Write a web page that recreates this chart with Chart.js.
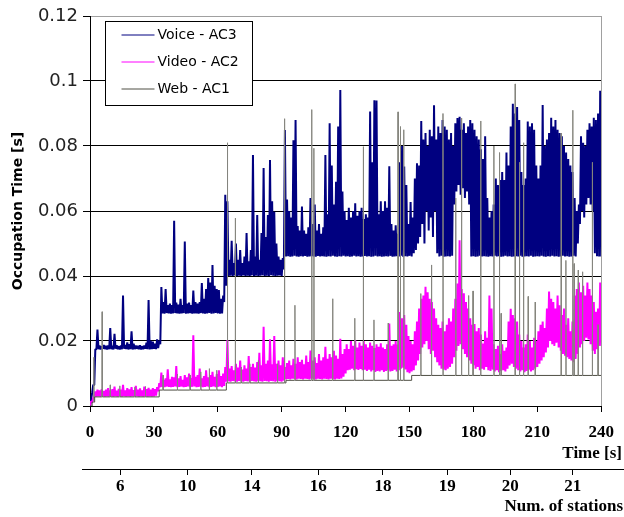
<!DOCTYPE html>
<html><head><meta charset="utf-8">
<script src="https://cdn.jsdelivr.net/npm/chart.js@4.4.1/dist/chart.umd.min.js"></script>
<style>html,body{margin:0;padding:0;background:#fff;}#wrap{width:624px;height:517px;}</style>
</head><body><div id="wrap"><canvas id="c" width="624" height="517"></canvas></div>
<script>
const seriesNames = ['Voice - AC3', 'Video - AC2', 'Web - AC1'];
const seriesColors = ['#000080', '#ff00ff', '#4f4f44'];
const spikeColor = '#85857e';
const yTitle = 'Occupation Time [s]';
const xTitle = 'Time [s]';
const x2Title = 'Num. of stations';
const yTickLabels = ['0', '0.02', '0.04', '0.06', '0.08', '0.1', '0.12'];
const stationTimes = [14.2, 45.9, 76, 107.1, 137.5, 167.7, 197.3, 226.6];
const stationLabels = ['6', '10', '14', '16', '18', '19', '20', '21'];

// Voice (AC3): per-second lower and upper values, t = 0..239
const voiceLo = [
0.000,0.004,0.0065,0.0174,0.0175,0.0174,0.0176,0.0175,0.0174,0.0175,
0.0175,0.0174,0.0176,0.0175,0.0174,0.0175,0.0176,0.0175,0.0174,0.0175,
0.0174,0.0175,0.0176,0.0175,0.0174,0.0175,0.0176,0.0175,0.0174,0.0175,
0.0176,0.0175,0.0178,0.0190,0.0285,0.0284,0.0286,0.0285,0.0284,0.0285,
0.0286,0.0285,0.0284,0.0285,0.0286,0.0284,0.0285,0.0286,0.0284,0.0285,
0.0285,0.0284,0.0286,0.0285,0.0284,0.0285,0.0286,0.0284,0.0285,0.0286,
0.0285,0.0284,0.0285,0.0320,0.0370,0.0400,0.0401,0.0400,0.0402,0.0400,
0.0401,0.0400,0.0402,0.0400,0.0401,0.0400,0.0402,0.0400,0.0401,0.0400,
0.0401,0.0402,0.0400,0.0401,0.0400,0.0402,0.0401,0.0400,0.0401,0.0402,
0.0400,0.0420,0.0460,0.0461,0.0459,0.0460,0.0462,0.0460,0.0459,0.0461,
0.0460,0.0462,0.0459,0.0460,0.0461,0.0460,0.0459,0.0462,0.0460,0.0461,
0.0460,0.0459,0.0461,0.0460,0.0462,0.0460,0.0459,0.0461,0.0460,0.0462,
0.0460,0.0461,0.0459,0.0460,0.0462,0.0460,0.0461,0.0459,0.0460,0.0462,
0.0460,0.0461,0.0459,0.0460,0.0462,0.0460,0.0461,0.0459,0.0460,0.0461,
0.0460,0.0462,0.0459,0.0460,0.0461,0.0460,0.0462,0.0459,0.0461,0.0460,
0.0462,0.0460,0.0470,0.0480,0.0500,0.0520,0.0560,0.0500,0.0600,0.0540,
0.0580,0.0520,0.0600,0.0470,0.0460,0.0462,0.0459,0.0460,0.0461,0.0460,
0.0462,0.0620,0.0660,0.0680,0.0650,0.0670,0.0640,0.0660,0.0620,0.0460,
0.0461,0.0459,0.0460,0.0462,0.0460,0.0461,0.0460,0.0459,0.0461,0.0460,
0.0462,0.0460,0.0461,0.0459,0.0460,0.0462,0.0460,0.0461,0.0459,0.0460,
0.0461,0.0460,0.0462,0.0459,0.0460,0.0461,0.0460,0.0462,0.0459,0.0460,
0.0461,0.0460,0.0462,0.0460,0.0459,0.0461,0.0460,0.0462,0.0460,0.0461,
0.0459,0.0460,0.0462,0.0460,0.0461,0.0459,0.0460,0.0462,0.0460,0.0500,
0.0560,0.0600,0.0580,0.0620,0.0640,0.0620,0.0600,0.0470,0.0461,0.0460
];
const voiceHi = [
0.0020,0.0065,0.0175,0.0235,0.0186,0.0184,0.0188,0.0185,0.0186,0.0240,
0.0185,0.0222,0.0187,0.0184,0.0186,0.0340,0.0188,0.0196,0.0190,0.0230,
0.0192,0.0186,0.0185,0.0187,0.0184,0.0186,0.0195,0.0326,0.0200,0.0198,
0.0192,0.0205,0.0200,0.0366,0.0320,0.0360,0.0310,0.0315,0.0310,0.0570,
0.0318,0.0312,0.0330,0.0310,0.0506,0.0315,0.0318,0.0310,0.0355,0.0320,
0.0315,0.0320,0.0378,0.0330,0.0360,0.0394,0.0380,0.0434,0.0370,0.0360,
0.0357,0.0330,0.0340,0.0650,0.0630,0.0450,0.0508,0.0440,0.0500,0.0450,
0.0480,0.0440,0.0460,0.0532,0.0445,0.0480,0.0772,0.0460,0.0588,0.0450,
0.0532,0.0732,0.0520,0.0588,0.0757,0.0630,0.0598,0.0500,0.0460,0.0450,
0.0455,0.0849,0.0635,0.0600,0.0580,0.0818,0.0880,0.0554,0.0540,0.0614,
0.0540,0.0530,0.0550,0.0640,0.0560,0.0620,0.0540,0.0560,0.0530,0.0550,
0.0772,0.0590,0.0870,0.0740,0.0620,0.0690,0.0860,0.0972,0.0660,0.0600,
0.0572,0.0610,0.0580,0.0600,0.0624,0.0585,0.0600,0.0610,0.0575,0.0590,
0.0580,0.0906,0.0750,0.0941,0.0940,0.0590,0.0630,0.0600,0.0630,0.0610,
0.0738,0.0560,0.0540,0.0556,0.0530,0.0750,0.0800,0.0737,0.0680,0.0560,
0.0628,0.0580,0.0700,0.0747,0.0740,0.0877,0.0820,0.0840,0.0800,0.0850,
0.0830,0.0925,0.0820,0.0860,0.0840,0.0880,0.0860,0.0850,0.0820,0.0840,
0.0800,0.0870,0.0886,0.0890,0.0850,0.0870,0.0840,0.0860,0.0880,0.0870,
0.0850,0.0830,0.0820,0.0790,0.0760,0.0830,0.0640,0.0580,0.0600,0.0620,
0.0700,0.0680,0.0695,0.0720,0.0695,0.0780,0.0740,0.0860,0.0930,0.0900,
0.0920,0.0880,0.0720,0.0680,0.0700,0.0875,0.0860,0.0870,0.0850,0.0740,
0.0700,0.0740,0.0926,0.0800,0.0820,0.0840,0.0887,0.0860,0.0880,0.0850,
0.0840,0.0830,0.0800,0.0780,0.0760,0.0740,0.0720,0.0640,0.0600,0.0620,
0.0830,0.0810,0.0800,0.0850,0.0870,0.0860,0.0887,0.0880,0.0900,0.0970
];

// Video (AC2): per-second lower and upper values, t = 0..239
const videoLo = [
0.0000,0.0010,0.0029,0.0029,0.0030,0.0029,0.0030,0.0029,0.0030,0.0029,
0.0030,0.0029,0.0030,0.0029,0.0030,0.0029,0.0030,0.0029,0.0030,0.0029,
0.0030,0.0029,0.0030,0.0029,0.0030,0.0029,0.0030,0.0029,0.0030,0.0029,
0.0030,0.0032,0.0045,0.0058,0.0059,0.0058,0.0060,0.0059,0.0058,0.0059,
0.0060,0.0058,0.0059,0.0060,0.0058,0.0059,0.0060,0.0058,0.0059,0.0060,
0.0058,0.0059,0.0060,0.0058,0.0059,0.0060,0.0058,0.0059,0.0060,0.0058,
0.0059,0.0060,0.0058,0.0062,0.0075,0.0076,0.0075,0.0077,0.0076,0.0075,
0.0077,0.0076,0.0075,0.0077,0.0076,0.0075,0.0077,0.0076,0.0075,0.0077,
0.0076,0.0075,0.0077,0.0076,0.0075,0.0077,0.0076,0.0075,0.0077,0.0076,
0.0075,0.0078,0.0082,0.0083,0.0082,0.0084,0.0083,0.0082,0.0084,0.0083,
0.0082,0.0084,0.0083,0.0082,0.0084,0.0083,0.0082,0.0084,0.0083,0.0082,
0.0084,0.0083,0.0082,0.0084,0.0083,0.0082,0.0084,0.0083,0.0085,0.0090,
0.0100,0.0110,0.0112,0.0115,0.0110,0.0113,0.0111,0.0114,0.0110,0.0112,
0.0108,0.0112,0.0106,0.0110,0.0105,0.0108,0.0106,0.0110,0.0105,0.0108,
0.0110,0.0106,0.0108,0.0112,0.0106,0.0110,0.0115,0.0118,0.0112,0.0104,
0.0101,0.0106,0.0110,0.0125,0.0140,0.0160,0.0180,0.0190,0.0200,0.0175,
0.0160,0.0170,0.0150,0.0135,0.0125,0.0115,0.0112,0.0110,0.0115,0.0120,
0.0130,0.0150,0.0170,0.0185,0.0190,0.0175,0.0160,0.0150,0.0140,0.0130,
0.0125,0.0115,0.0120,0.0110,0.0115,0.0112,0.0120,0.0110,0.0108,0.0112,
0.0106,0.0110,0.0104,0.0108,0.0110,0.0106,0.0115,0.0125,0.0130,0.0120,
0.0115,0.0110,0.0106,0.0110,0.0104,0.0108,0.0112,0.0106,0.0110,0.0115,
0.0120,0.0130,0.0140,0.0150,0.0165,0.0180,0.0200,0.0190,0.0185,0.0195,
0.0180,0.0170,0.0160,0.0155,0.0150,0.0145,0.0140,0.0135,0.0145,0.0160,
0.0180,0.0190,0.0200,0.0210,0.0205,0.0190,0.0170,0.0160,0.0175,0.0185
];
const videoHi = [
0.0015,0.0025,0.0045,0.0050,0.0048,0.0052,0.0046,0.0050,0.0055,0.0048,
0.0052,0.0060,0.0047,0.0053,0.0050,0.0065,0.0048,0.0055,0.0051,0.0058,
0.0049,0.0062,0.0050,0.0054,0.0048,0.0060,0.0052,0.0056,0.0050,0.0055,
0.0052,0.0058,0.0070,0.0103,0.0080,0.0085,0.0113,0.0082,0.0090,0.0088,
0.0123,0.0085,0.0092,0.0080,0.0095,0.0088,0.0100,0.0086,0.0218,0.0090,
0.0095,0.0115,0.0085,0.0092,0.0110,0.0088,0.0095,0.0105,0.0090,0.0098,
0.0110,0.0092,0.0100,0.0120,0.0203,0.0115,0.0123,0.0110,0.0130,0.0118,
0.0140,0.0112,0.0125,0.0115,0.0154,0.0120,0.0130,0.0118,0.0135,0.0164,
0.0125,0.0244,0.0130,0.0140,0.0205,0.0128,0.0215,0.0130,0.0140,0.0125,
0.0150,0.0120,0.0132,0.0140,0.0125,0.0145,0.0130,0.0150,0.0135,0.0142,
0.0128,0.0155,0.0135,0.0171,0.0140,0.0150,0.0132,0.0160,0.0140,0.0150,
0.0182,0.0145,0.0160,0.0150,0.0170,0.0155,0.0145,0.0207,0.0160,0.0175,
0.0190,0.0175,0.0200,0.0185,0.0203,0.0180,0.0195,0.0185,0.0200,0.0190,
0.0180,0.0195,0.0185,0.0178,0.0190,0.0182,0.0193,0.0180,0.0175,0.0190,
0.0254,0.0185,0.0190,0.0200,0.0189,0.0289,0.0270,0.0280,0.0250,0.0215,
0.0200,0.0190,0.0230,0.0260,0.0300,0.0330,0.0340,0.0367,0.0350,0.0330,
0.0320,0.0300,0.0270,0.0250,0.0240,0.0260,0.0230,0.0250,0.0270,0.0260,
0.0300,0.0330,0.0377,0.0510,0.0360,0.0347,0.0320,0.0300,0.0270,0.0250,
0.0252,0.0230,0.0240,0.0220,0.0192,0.0230,0.0210,0.0340,0.0300,0.0190,
0.0175,0.0185,0.0160,0.0190,0.0170,0.0180,0.0260,0.0299,0.0280,0.0270,
0.0260,0.0220,0.0200,0.0180,0.0190,0.0220,0.0200,0.0180,0.0210,0.0200,
0.0230,0.0250,0.0260,0.0240,0.0300,0.0352,0.0330,0.0320,0.0300,0.0340,
0.0310,0.0280,0.0300,0.0250,0.0270,0.0230,0.0260,0.0340,0.0360,0.0380,
0.0350,0.0370,0.0340,0.0380,0.0360,0.0340,0.0320,0.0290,0.0300,0.0380
];

// Web (AC1): step levels and isolated spikes
const webStepTimes = [0, 1, 2.2, 32.5, 64, 92, 151];
const webStepLevels = [0, 0.0012, 0.0028, 0.0049, 0.0071, 0.0079, 0.0094];
const webSpikeTimes = [1.8, 5.7, 9.5, 14, 21, 26, 34.3, 41, 47, 52, 56, 59.5,
  64.5, 68.2, 71, 75, 79, 88, 91.3, 96.2, 104.1, 105.1, 113.9, 124.3, 128.3, 133.3,
  140, 144.6, 145.7, 147.3, 155.3, 160.3, 165.7, 171.7, 174.4, 177.7, 179.8, 183.4,
  189.6, 192.2, 193, 199.6, 201.6, 203.5, 205.7, 209, 221.2, 223.4, 226.6, 227.3,
  229.2, 231.2, 235.8, 238.5];
const webSpikeValues = [0.015, 0.029, 0.0065, 0.0062, 0.0058, 0.006, 0.0095, 0.0098, 0.0095, 0.0105, 0.0115, 0.011,
  0.081, 0.0578, 0.012, 0.013, 0.014, 0.013, 0.0884, 0.031, 0.0912, 0.0793, 0.033, 0.027, 0.0798, 0.0265,
  0.0255, 0.0905, 0.086, 0.085, 0.0346, 0.0434, 0.090, 0.064, 0.0886, 0.034, 0.0354, 0.0877,
  0.080, 0.078, 0.0285, 0.0991, 0.075, 0.081, 0.0337, 0.032, 0.084, 0.0448, 0.091, 0.0438,
  0.0418, 0.0413, 0.075, 0.025];

function bandPoints(lo, hi) {
  const pts = [];
  for (let i = 0; i < lo.length; i++) {
    pts.push({x: i, y: lo[i]});
    pts.push({x: i + 0.5, y: hi[i]});
  }
  pts.push({x: lo.length, y: lo[lo.length - 1]});
  return pts;
}
function webLevelAt(t) {
  let lvl = webStepLevels[0];
  for (let k = 0; k < webStepTimes.length; k++) if (webStepTimes[k] <= t) lvl = webStepLevels[k];
  return lvl;
}
function webPoints() {
  const ev = [];
  for (let k = 0; k < webStepTimes.length; k++) {
    if (k === 0) ev.push({x: webStepTimes[0], y: webStepLevels[0], o: 0});
    else {
      ev.push({x: webStepTimes[k], y: webStepLevels[k - 1], o: 0});
      ev.push({x: webStepTimes[k], y: webStepLevels[k], o: 1});
    }
  }
  for (let s = 0; s < webSpikeTimes.length; s++) {
    const t = webSpikeTimes[s], b = webLevelAt(t);
    ev.push({x: t - 0.12, y: b, o: 0}, {x: t, y: webSpikeValues[s], o: 0}, {x: t + 0.12, y: b, o: 0});
  }
  ev.sort((a, b) => (a.x - b.x) || (a.o - b.o));
  ev.push({x: 240, y: webStepLevels[webStepLevels.length - 1]});
  return ev.map(p => ({x: p.x, y: p.y}));
}

const decor = {
  id: 'decor',
  afterDraw(chart) {
    const {ctx, chartArea: a, scales} = chart;
    ctx.save();
    ctx.lineWidth = 1;
    ctx.strokeStyle = '#a0a0a0';
    ctx.beginPath();
    ctx.moveTo(Math.round(a.right) + 0.5, a.top);
    ctx.lineTo(Math.round(a.right) + 0.5, a.bottom);
    ctx.stroke();
    const y2 = Math.round(scales.x2.top) + 0.5;
    ctx.strokeStyle = '#000';
    ctx.beginPath();
    ctx.moveTo(a.left - 8, y2);
    ctx.lineTo(chart.width, y2);
    ctx.stroke();
    ctx.fillStyle = '#000';
    ctx.font = 'bold 17px "Liberation Serif", "Times New Roman", serif';
    ctx.textAlign = 'right';
    ctx.textBaseline = 'middle';
    ctx.fillText(xTitle, chart.width - 2, scales.x.bottom - 15);
    ctx.fillText(x2Title, chart.width - 1, scales.x2.bottom - 10);
    // legend
    const lx = Math.round(a.left) + 15.5, ly = Math.round(a.top) + 5.5;
    ctx.fillStyle = '#fff';
    ctx.fillRect(lx, ly, 147, 84);
    ctx.strokeStyle = '#000';
    ctx.strokeRect(lx, ly, 147, 84);
    ctx.font = '14px "DejaVu Sans", sans-serif';
    ctx.textAlign = 'left';
    for (let k = 0; k < seriesNames.length; k++) {
      const yy = ly + 13.5 + k * 27;
      ctx.strokeStyle = seriesColors[k];
      ctx.beginPath();
      ctx.moveTo(lx + 16, yy);
      ctx.lineTo(lx + 49, yy);
      ctx.stroke();
      ctx.fillStyle = '#000';
      ctx.fillText(seriesNames[k], lx + 52, yy);
    }
    ctx.restore();
  }
};

const serifBold = {family: '"Liberation Serif", "Times New Roman", serif', size: 17, weight: 'bold'};
new Chart(document.getElementById('c').getContext('2d'), {
  type: 'line',
  data: {
    datasets: [
      {label: seriesNames[0], data: bandPoints(voiceLo, voiceHi), borderColor: seriesColors[0], borderWidth: 2, borderJoinStyle: 'bevel', pointRadius: 0, order: 2},
      {label: seriesNames[1], data: bandPoints(videoLo, videoHi), borderColor: seriesColors[1], borderWidth: 2, borderJoinStyle: 'bevel', pointRadius: 0, order: 1},
      {label: seriesNames[2], data: webPoints(), borderColor: seriesColors[2], borderWidth: 1, borderJoinStyle: 'bevel', pointRadius: 0, order: 0,
       segment: {borderColor: c => Math.abs(c.p1.parsed.y - c.p0.parsed.y) > 0.0025 ? spikeColor : undefined}}
    ]
  },
  options: {
    responsive: false,
    animation: false,
    devicePixelRatio: 1,
    layout: {padding: {left: 0, top: 16, right: 15, bottom: 0}},
    plugins: {legend: {display: false}, tooltip: {enabled: false}},
    elements: {line: {tension: 0}},
    scales: {
      x: {
        type: 'linear', position: 'bottom', min: 0, max: 240, weight: 0,
        ticks: {stepSize: 30, autoSkip: false, maxRotation: 0, padding: 10, color: '#000', font: serifBold},
        grid: {drawOnChartArea: false, drawTicks: true, tickLength: 6, tickColor: '#000', color: '#000'},
        border: {display: true, color: '#000', width: 1},
        afterFit(s) { s.height = 63; }
      },
      x2: {
        type: 'linear', position: 'bottom', min: 0, max: 240, weight: 1,
        afterBuildTicks(s) { s.ticks = stationTimes.map(v => ({value: v})); },
        ticks: {autoSkip: false, maxRotation: 0, padding: 1, color: '#000', font: serifBold,
                callback: (v, i) => stationLabels[i]},
        grid: {drawOnChartArea: false, drawTicks: true, tickLength: 6, tickColor: '#000', color: '#000'},
        border: {display: false},
        afterFit(s) { s.height = 48; }
      },
      y: {
        type: 'linear', position: 'left', min: 0, max: 0.12,
        ticks: {stepSize: 0.02, padding: 5, color: '#222', font: {family: '"DejaVu Sans", sans-serif', size: 18},
                callback: (v, i) => yTickLabels[i]},
        grid: {color: c => (c.tick && c.tick.value > 0.119) ? '#a0a0a0' : '#000', tickColor: '#000', tickLength: 7, drawTicks: true},
        border: {display: true, color: '#000'},
        title: {display: true, text: yTitle, color: '#000', font: {family: '"DejaVu Sans", sans-serif', size: 14, weight: 'bold'}, padding: {top: 10, bottom: 0}},
        afterFit(s) { s.width = 90; }
      }
    }
  },
  plugins: [decor]
});
</script>
</body></html>
